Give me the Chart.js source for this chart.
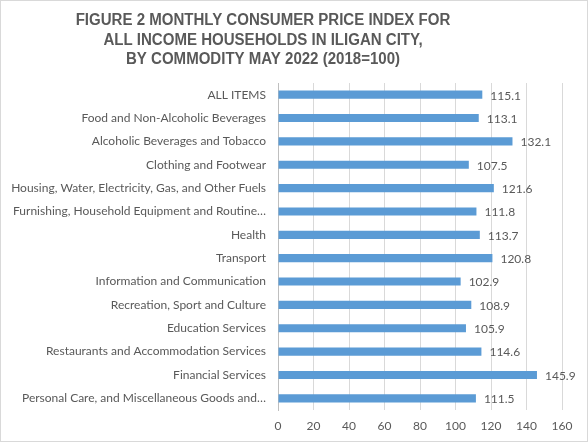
<!DOCTYPE html>
<html>
<head>
<meta charset="utf-8">
<script src="https://cdn.jsdelivr.net/npm/chart.js@4"></script>
<style>
  html, body { margin: 0; padding: 0; background: #fff; }
  #wrap { width: 588px; height: 442px; }
</style>
</head>
<body>
<div id="wrap"><canvas id="cpiChart" width="588" height="442"></canvas></div>
<script>
// kategórie a hodnoty CPI (máj 2022, 2018=100)
const categories = [
    'ALL ITEMS',
    'Food and Non-Alcoholic Beverages',
    'Alcoholic Beverages and Tobacco',
    'Clothing and Footwear',
    'Housing, Water, Electricity, Gas, and Other Fuels',
    'Furnishing, Household Equipment and Routine\u2026',
    'Health',
    'Transport',
    'Information and Communication',
    'Recreation, Sport and Culture',
    'Education Services',
    'Restaurants and Accommodation Services',
    'Financial Services',
    'Personal Care, and Miscellaneous Goods and\u2026'
];
const cpiValues = [115.1, 113.1, 132.1, 107.5, 121.6, 111.8, 113.7, 120.8, 102.9, 108.9, 105.9, 114.6, 145.9, 111.5];
const xTicks = [0, 20, 40, 60, 80, 100, 120, 140, 160];
const titleLines = [
    'FIGURE 2 MONTHLY CONSUMER PRICE INDEX FOR',
    'ALL INCOME HOUSEHOLDS IN ILIGAN CITY,',
    'BY COMMODITY MAY 2022 (2018=100)'
];

const textGray = '#595959';
const labelFont = { family: 'Lato', size: 12 };

// hodnoty na konci stĺpcov
const valueLabels = {
    id: 'valueLabels',
    afterDatasetsDraw(chart) {
        const ctx = chart.ctx;
        const meta = chart.getDatasetMeta(0);
        ctx.save();
        ctx.font = labelFont.size + 'px ' + labelFont.family;
        ctx.fillStyle = textGray;
        ctx.textAlign = 'left';
        ctx.textBaseline = 'middle';
        meta.data.forEach((bar, i) => {
            ctx.fillText(cpiValues[i].toFixed(1), bar.x + 8, bar.y + 1);
        });
        ctx.restore();
    }
};

// titulok – v origináli je posunutý trochu doľava a užší
const figureTitle = {
    id: 'figureTitle',
    afterDraw(chart) {
        const ctx = chart.ctx;
        ctx.save();
        ctx.font = 'bold 16px "Liberation Sans"';
        ctx.fillStyle = textGray;
        ctx.textAlign = 'center';
        ctx.textBaseline = 'middle';
        ctx.translate(263, 0);
        ctx.scale(0.94, 1);
        titleLines.forEach((line, i) => {
            ctx.fillText(line, 0, 20.5 + i * 19.7);
        });
        ctx.restore();
    }
};

// rámček okolo celého grafu
const outerBorder = {
    id: 'outerBorder',
    beforeDraw(chart) {
        const ctx = chart.ctx;
        ctx.save();
        ctx.fillStyle = '#fff';
        ctx.fillRect(0, 0, chart.width, chart.height);
        ctx.strokeStyle = '#d9d9d9';
        ctx.lineWidth = 1;
        ctx.strokeRect(0.5, 0.5, chart.width - 1, chart.height - 1);
        ctx.restore();
    }
};

const ctx = document.getElementById('cpiChart').getContext('2d');
const chart = new Chart(ctx, {
    type: 'bar',
    data: {
        labels: categories,
        datasets: [{
            label: 'CPI',
            data: cpiValues,
            backgroundColor: '#5b9bd5',
            borderWidth: 0,
            categoryPercentage: 0.35,
            barPercentage: 1
        }]
    },
    options: {
        indexAxis: 'y',
        responsive: false,
        animation: false,
        layout: { padding: { left: 1, right: 26, top: 83, bottom: 8 } },
        plugins: {
            legend: { display: false },
            tooltip: { enabled: false },
            title: { display: false }
        },
        scales: {
            x: {
                min: 0,
                max: 160,
                afterBuildTicks(scale) {
                    scale.ticks = xTicks.map(v => ({ value: v }));
                },
                afterFit(scale) { scale.height = 24; },
                grid: { color: '#d9d9d9', lineWidth: 1, drawTicks: false },
                border: { display: false },
                ticks: { color: textGray, font: labelFont, padding: 9 }
            },
            y: {
                afterFit(scale) { scale.width = 277; },
                grid: { display: false, drawTicks: false },
                border: { display: true, color: '#bfbfbf', width: 1 },
                ticks: { color: textGray, font: labelFont, padding: 12, autoSkip: false }
            }
        }
    },
    plugins: [outerBorder, figureTitle, valueLabels]
});
</script>
</body>
</html>
